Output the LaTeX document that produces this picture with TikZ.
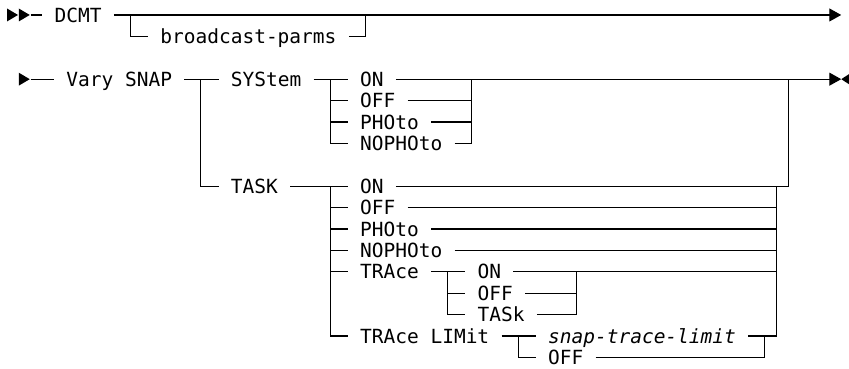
\documentclass[tikz,border=0pt]{standalone}
\usepackage{fontspec}
\setmonofont{DejaVu Sans Mono}
\usepackage{tikz}
\usetikzlibrary{arrows.meta,positioning}

\begin{document}
\begin{tikzpicture}[x=11.75pt,y=-21.4pt,line width=1.2pt,
  kw/.style={anchor=west,inner xsep=11.75pt,inner ysep=0pt,text height=14.2pt,text depth=0pt,
    font=\fontsize{19.5pt}{21pt}\selectfont\ttfamily},
  endtip/.style={-{Triangle[length=12pt,width=13pt]}}]
\useasboundingbox (-0.596,-0.7) rectangle (71.66,16.5);
% DCMT
\fill (0,0) ++(0pt,6.5pt) -- ++(11pt,-6.5pt) -- ++(-11pt,-6.5pt) -- cycle;
\fill (1,0) ++(0pt,6.5pt) -- ++(11pt,-6.5pt) -- ++(-11pt,-6.5pt) -- cycle;
\coordinate (s1) at (2,0);
\node[kw] (dcmt) at (3,0) {DCMT};
\node[kw] (bcast) at (12,1) {broadcast-parms};
\coordinate (j1a) at (10.5,0);
\coordinate (j1b) at (30.5,0);
\coordinate (e1) at (71,0);
\draw (s1) -- (dcmt.west);
\draw[endtip] (dcmt.east) -- (e1);
\draw (j1a) |- (bcast.west);
\draw (bcast.east) -| (j1b);
% Vary SNAP
\fill (1,3) ++(0pt,6.5pt) -- ++(11pt,-6.5pt) -- ++(-11pt,-6.5pt) -- cycle;
\coordinate (s2) at (2,3);
\node[kw] (vary) at (4,3) {Vary SNAP};
\coordinate (j2a) at (16.5,3);
\node[kw] (sys) at (18,3) {SYStem};
\coordinate (j2b) at (27.5,3);
\node[kw] (son) at (29,3) {ON};
\node[kw] (soff) at (29,4) {OFF};
\node[kw] (spho) at (29,5) {PHOto};
\node[kw] (snop) at (29,6) {NOPHOto};
\coordinate (j2c) at (39.5,3);
\coordinate (j2d) at (66.5,3);
\coordinate (e2) at (71,3);
\draw (s2) -- (vary.west);
\draw (vary.east) -- (sys.west);
\draw (sys.east) -- (son.west);
\draw[endtip] (son.east) -- (e2);
\fill (e2) -- ++(10pt,6.5pt) -- ++(0pt,-13pt) -- cycle;
\draw (j2b) |- (snop.west);
\foreach \n in {soff,spho} \draw (j2b |- \n.west) -- (\n.west);
\draw (snop.east) -| (j2c);
\foreach \n in {soff,spho} \draw (\n.east) -- (j2c |- \n.east);
% TASK
\node[kw] (task) at (18,8) {TASK};
\coordinate (j2e) at (27.5,8);
\node[kw] (ton) at (29,8) {ON};
\node[kw] (toff) at (29,9) {OFF};
\node[kw] (tpho) at (29,10) {PHOto};
\node[kw] (tnop) at (29,11) {NOPHOto};
\node[kw] (ttra) at (29,12) {TRAce};
\node[kw] (tlim) at (29,15) {TRAce LIMit};
\coordinate (j2f) at (65.5,8);
\coordinate (j2l) at (65.5,15);
\draw (j2a) |- (task.west);
\draw (task.east) -- (ton.west);
\draw (ton.east) -| (j2d);
\draw (j2e) |- (tlim.west);
\foreach \n in {toff,tpho,tnop,ttra} \draw (j2e |- \n.west) -- (\n.west);
\draw (j2f) -- (j2l);
\foreach \n in {toff,tpho,tnop} \draw (\n.east) -- (j2f |- \n.east);
% TRAce
\coordinate (j2g) at (37.5,12);
\node[kw] (ron) at (39,12) {ON};
\node[kw] (roff) at (39,13) {OFF};
\node[kw] (rtas) at (39,14) {TASk};
\coordinate (j2h) at (48.5,12);
\draw (ttra.east) -- (ron.west);
\draw (j2g) |- (rtas.west);
\draw (j2g |- roff.west) -- (roff.west);
\draw (ron.east) -- (j2f |- ron.east);
\draw (rtas.east) -| (j2h);
\draw (roff.east) -- (j2h |- roff.east);
% TRAce LIMit
\coordinate (j2i) at (43.5,15);
\node[kw] (snap) at (45,15) {\itshape snap-trace-limit};
\node[kw] (loff) at (45,16) {OFF};
\coordinate (j2k) at (64.5,15);
\draw (tlim.east) -- (snap.west);
\draw (j2i) |- (loff.west);
\draw (snap.east) -- (j2l);
\draw (loff.east) -| (j2k);
\end{tikzpicture}
\end{document}
